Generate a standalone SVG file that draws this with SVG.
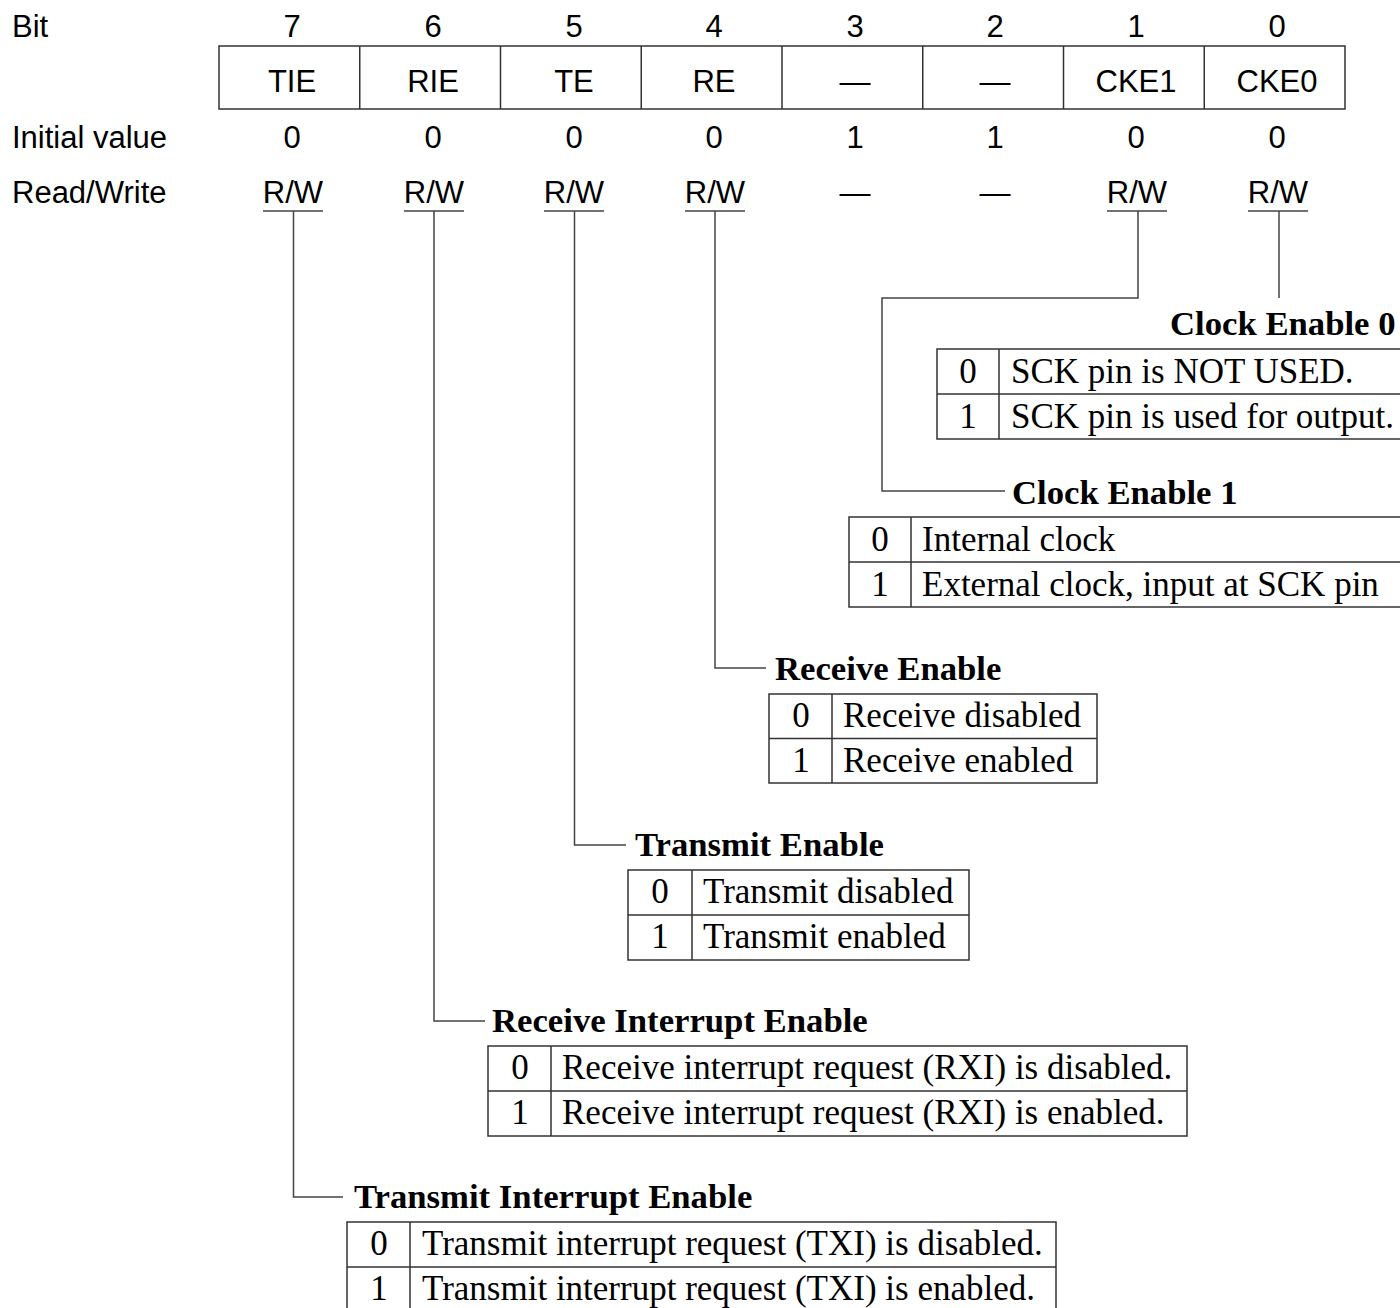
<svg xmlns="http://www.w3.org/2000/svg" width="1400" height="1308" viewBox="0 0 1400 1308">
<style>
.s{font-family:"Liberation Sans",Arial,sans-serif;font-size:31px;fill:#000}
.c{text-anchor:middle}
.t{font-family:"Liberation Serif","Times New Roman",serif;font-size:35px;fill:#000}
.h{font-family:"Liberation Serif","Times New Roman",serif;font-size:34.7px;font-weight:bold;fill:#000}
.b{fill:none;stroke:#333;stroke-width:1.5}
.l{fill:none;stroke:#444;stroke-width:1.5}
</style>
<rect width="1400" height="1308" fill="#fff"/>
<g id="register">
<text class="s" x="12" y="37">Bit</text>
<text class="s" x="12" y="148">Initial value</text>
<text class="s" x="12" y="203">Read/Write</text>
<rect class="b" x="219" y="46" width="1126" height="63"/>
<path class="b" d="M359.75 46V109M500.5 46V109M641.25 46V109M782 46V109M922.75 46V109M1063.5 46V109M1204.25 46V109"/>
<g class="s c">
<text x="292" y="37">7</text><text x="433" y="37">6</text><text x="574" y="37">5</text><text x="714" y="37">4</text><text x="855" y="37">3</text><text x="995" y="37">2</text><text x="1136" y="37">1</text><text x="1277" y="37">0</text>
<text x="292" y="92">TIE</text><text x="433" y="92">RIE</text><text x="574" y="92">TE</text><text x="714" y="92">RE</text><text x="855" y="92">—</text><text x="995" y="92">—</text><text x="1136" y="92">CKE1</text><text x="1277" y="92">CKE0</text>
<text x="292" y="148">0</text><text x="433" y="148">0</text><text x="574" y="148">0</text><text x="714" y="148">0</text><text x="855" y="148">1</text><text x="995" y="148">1</text><text x="1136" y="148">0</text><text x="1277" y="148">0</text>
<text x="293" y="203">R/W</text><text x="434" y="203">R/W</text><text x="574" y="203">R/W</text><text x="715" y="203">R/W</text><text x="855" y="203">—</text><text x="995" y="203">—</text><text x="1137" y="203">R/W</text><text x="1278" y="203">R/W</text>
</g>
<path class="l" d="M263 211H323M404 211H464M544 211H604M685 211H745M1107 211H1167M1248 211H1308"/>
</g>
<g id="connectors">
<path class="l" d="M293.5 211V1197H343"/>
<path class="l" d="M434 211V1021H485"/>
<path class="l" d="M574.5 211V845H626"/>
<path class="l" d="M715 211V668H766"/>
<path class="l" d="M1138 211V298H882V491H1005"/>
<path class="l" d="M1279 211V298"/>
</g>
<g id="cke0">
<text class="h" x="1170" y="335">Clock Enable 0</text>
<rect class="b" x="937" y="349" width="480" height="90"/>
<path class="b" d="M937 394H1417M999 349V439"/>
<text class="t c" x="968" y="383">0</text><text class="t" x="1011" y="383">SCK pin is NOT USED.</text>
<text class="t c" x="968" y="428">1</text><text class="t" x="1011" y="428">SCK pin is used for output.</text>
</g>
<g id="cke1">
<text class="h" x="1012" y="504">Clock Enable 1</text>
<rect class="b" x="849" y="517" width="570" height="90"/>
<path class="b" d="M849 562H1419M911 517V607"/>
<text class="t c" x="880" y="551">0</text><text class="t" x="922" y="551">Internal clock</text>
<text class="t c" x="880" y="596">1</text><text class="t" x="922" y="596">External clock, input at SCK pin</text>
</g>
<g id="re">
<text class="h" x="775" y="680">Receive Enable</text>
<rect class="b" x="769" y="694" width="328" height="89"/>
<path class="b" d="M769 738.5H1097M832 694V783"/>
<text class="t c" x="801" y="727">0</text><text class="t" x="843" y="727">Receive disabled</text>
<text class="t c" x="801" y="772">1</text><text class="t" x="843" y="772">Receive enabled</text>
</g>
<g id="te">
<text class="h" x="635" y="856">Transmit Enable</text>
<rect class="b" x="628" y="870" width="341" height="90"/>
<path class="b" d="M628 915H969M692 870V960"/>
<text class="t c" x="660" y="903">0</text><text class="t" x="703" y="903">Transmit disabled</text>
<text class="t c" x="660" y="948">1</text><text class="t" x="703" y="948">Transmit enabled</text>
</g>
<g id="rie">
<text class="h" x="492" y="1032">Receive Interrupt Enable</text>
<rect class="b" x="488" y="1046" width="699" height="90"/>
<path class="b" d="M488 1091H1187M551 1046V1136"/>
<text class="t c" x="520" y="1079">0</text><text class="t" x="562" y="1079">Receive interrupt request (RXI) is disabled.</text>
<text class="t c" x="520" y="1124">1</text><text class="t" x="562" y="1124">Receive interrupt request (RXI) is enabled.</text>
</g>
<g id="tie">
<text class="h" x="354" y="1208">Transmit Interrupt Enable</text>
<rect class="b" x="347" y="1222" width="709" height="90"/>
<path class="b" d="M347 1267H1056M410 1222V1312"/>
<text class="t c" x="379" y="1255">0</text><text class="t" x="422" y="1255">Transmit interrupt request (TXI) is disabled.</text>
<text class="t c" x="379" y="1300">1</text><text class="t" x="422" y="1300">Transmit interrupt request (TXI) is enabled.</text>
</g>
</svg>
